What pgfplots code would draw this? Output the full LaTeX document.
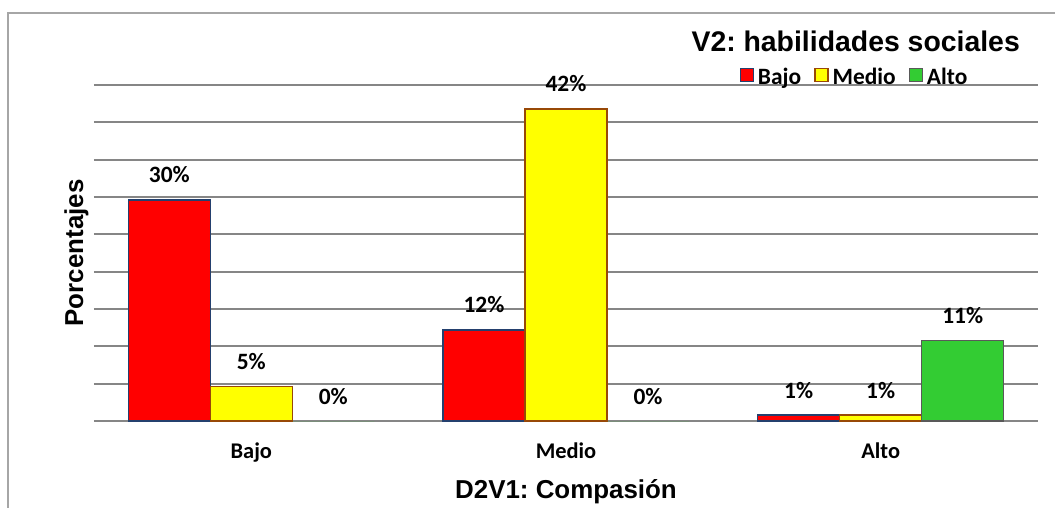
\documentclass[border=0pt]{standalone}
\usepackage{fontspec}
\setmainfont{Liberation Sans}
\newfontfamily\carl{Carlito}
\usepackage{pgfplots}
\pgfplotsset{compat=1.18}
\frenchspacing
\definecolor{gridc}{RGB}{134,134,134}
\definecolor{framec}{RGB}{166,166,166}
\definecolor{rcol}{RGB}{255,0,0}
\definecolor{rbord}{RGB}{36,64,110}
\definecolor{ycol}{RGB}{255,255,0}
\definecolor{ybord}{RGB}{152,72,7}
\definecolor{gcol}{RGB}{51,204,51}
\definecolor{gbord}{RGB}{89,89,89}
\pgfplotsset{sq legend/.style={legend image code/.code={\draw[##1, line width=1.3bp] (0bp,-5bp) rectangle (13bp,8bp);}}}
\begin{document}
\begin{tikzpicture}
\useasboundingbox (-94bp,-87bp) rectangle (961bp,421bp);
\draw[framec, line width=1.5bp] (-86bp,-95bp) -- (-86bp,408bp) -- (970bp,408bp);
\begin{axis}[
  at={(0,0)}, anchor=south west,
  scale only axis, width=944bp, height=336bp,
  xmin=-0.5, xmax=2.5, ymin=0, ymax=45,
  ybar=0pt, bar width=82bp,
  xtick={0,1,2}, xticklabels={Bajo,Medio,Alto},
  ytick={0,5,...,45}, yticklabels={},
  major tick length=0pt,
  axis line style={draw=none},
  ymajorgrids, grid style={gridc, line width=2bp},
  xticklabel style={font=\carl\bfseries\fontsize{22.5}{27}\selectfont, anchor=base, yshift=-37bp},
  xlabel={D2V1: Compasión},
  xlabel style={font=\bfseries\fontsize{26}{30}\selectfont, at={(axis description cs:0.5,-0.2292)}, anchor=base},
  ylabel={Porcentajes},
  ylabel style={font=\bfseries\fontsize{26}{30}\selectfont, at={(axis description cs:-0.01165,0.5)}, anchor=base},
  point meta=explicit symbolic,
  nodes near coords,
  every node near coord/.append style={font=\carl\bfseries\fontsize{23.5}{28}\selectfont, anchor=base, yshift=17bp, text=black},
  legend columns=3,
  legend style={at={(axis description cs:0.8046,1.025)}, anchor=center, draw=none, fill=none,
    font=\carl\bfseries\fontsize{23.5}{28}\selectfont, inner sep=0pt,
    nodes={inner sep=0pt},
    /tikz/every even column/.append style={column sep=13bp}},
]
\addplot[fill=rcol, draw=rbord, line width=1.3bp, bar shift=-82bp, sq legend] coordinates {(0,29.6) [30\%] (1,12.2) [12\%] (2,0.8) [1\%]};
\addplot[fill=ycol, draw=ybord, line width=1.3bp, bar shift=0bp, sq legend] coordinates {(0,4.6) [5\%] (1,41.8) [42\%] (2,0.8) [1\%]};
\addplot[fill=gcol, draw=gbord, line width=1.3bp, bar shift=82bp, sq legend] coordinates {(2,10.8) [11\%]};
\addplot[fill=gcol, draw=none, bar shift=82bp, forget plot] coordinates {(0,0) [0\%] (1,0) [0\%]};
\legend{\kern4bp Bajo,\kern4bp Medio,\kern4bp Alto}
\end{axis}
\node[anchor=base east, font=\bfseries\fontsize{28.5}{32}\selectfont, inner sep=0pt] at (926bp,369bp) {V2: habilidades sociales};
\end{tikzpicture}
\end{document}
